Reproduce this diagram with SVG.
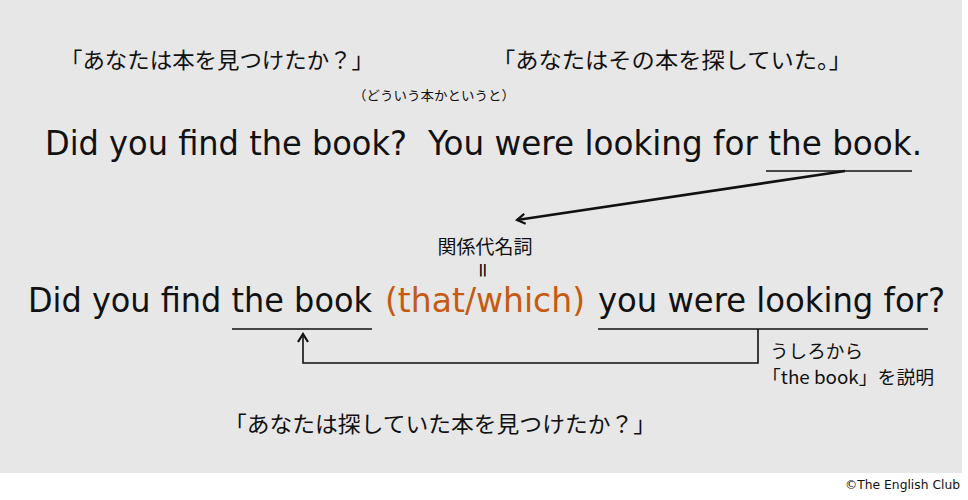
<svg xmlns="http://www.w3.org/2000/svg" width="968" height="500" viewBox="0 0 968 500">
<defs>
<style>
.jp{font-family:"Noto Sans CJK JP","Noto Sans",sans-serif;fill:#111}
.en{font-family:"DejaVu Sans","Noto Sans",sans-serif;fill:#111}
.ln{stroke:#111;stroke-width:1.6;fill:none}
.ar{stroke:#111;stroke-width:2.6;fill:none}
</style>
<marker id="open" viewBox="0 0 12 12" refX="10" refY="6" markerWidth="12" markerHeight="12" markerUnits="userSpaceOnUse" orient="auto">
<path d="M2,1 L10,6 L2,11" fill="none" stroke="#111" stroke-width="2.2"/>
</marker>
</defs>
<rect x="0" y="0" width="968" height="500" fill="#ffffff"/>
<rect x="0" y="0" width="962" height="473" fill="#e7e7e7"/>
<g id="jp1"><text class="jp" x="60" y="68" font-size="22" textLength="314" lengthAdjust="spacingAndGlyphs">「あなたは本を見つけたか？」</text></g>
<g id="jp2"><text class="jp" x="492" y="68" font-size="22" textLength="360" lengthAdjust="spacingAndGlyphs">「あなたはその本を探していた。」</text></g>
<g id="note"><text class="jp" x="353" y="100" font-size="13" textLength="162" lengthAdjust="spacingAndGlyphs">（どういう本かというと）</text></g>
<g id="sent1">
<text class="en" x="45" y="155" font-size="33" textLength="362" lengthAdjust="spacingAndGlyphs">Did you find the book?</text>
<text class="en" x="428" y="155" font-size="33" textLength="494" lengthAdjust="spacingAndGlyphs">You were looking for the book.</text>
</g>
<g id="kankei"><text class="jp" x="485" y="254" font-size="19" text-anchor="middle">関係代名詞</text>
<text class="en" x="0" y="0" font-size="20" text-anchor="middle" transform="translate(484,270) rotate(90)" dominant-baseline="central">=</text></g>
<g id="sent2">
<text class="en" x="28" y="312" font-size="33" textLength="344" lengthAdjust="spacingAndGlyphs">Did you find the book</text>
<text class="en" x="385" y="312" font-size="33" textLength="200" lengthAdjust="spacingAndGlyphs" style="fill:#c55a11">(that/which)</text>
<text class="en" x="598" y="312" font-size="33" textLength="347" lengthAdjust="spacingAndGlyphs">you were looking for?</text>
</g>
<g id="expl"><text class="jp" x="770" y="358" font-size="18" textLength="93" lengthAdjust="spacingAndGlyphs">うしろから</text>
<text class="jp" x="762" y="384" font-size="18" textLength="172" lengthAdjust="spacingAndGlyphs">「the book」を説明</text></g>
<g id="jp3"><text class="jp" x="224" y="432" font-size="22" textLength="432" lengthAdjust="spacingAndGlyphs">「あなたは探していた本を見つけたか？」</text></g>
<g id="credit"><text class="en" x="960" y="489" font-size="13" text-anchor="end" textLength="115" lengthAdjust="spacingAndGlyphs">©The English Club</text></g>
<g id="connectors">
<line class="ln" x1="766" y1="171" x2="912" y2="171"/>
<line class="ar" x1="845" y1="171" x2="517" y2="220" marker-end="url(#open)"/>
<line class="ln" x1="232" y1="329" x2="372" y2="329"/>
<line class="ln" x1="598" y1="329" x2="928" y2="329"/>
<polyline class="ln" points="758,329 758,363 303,363 303,334" marker-end="url(#open)"/>
</g>
</svg>
